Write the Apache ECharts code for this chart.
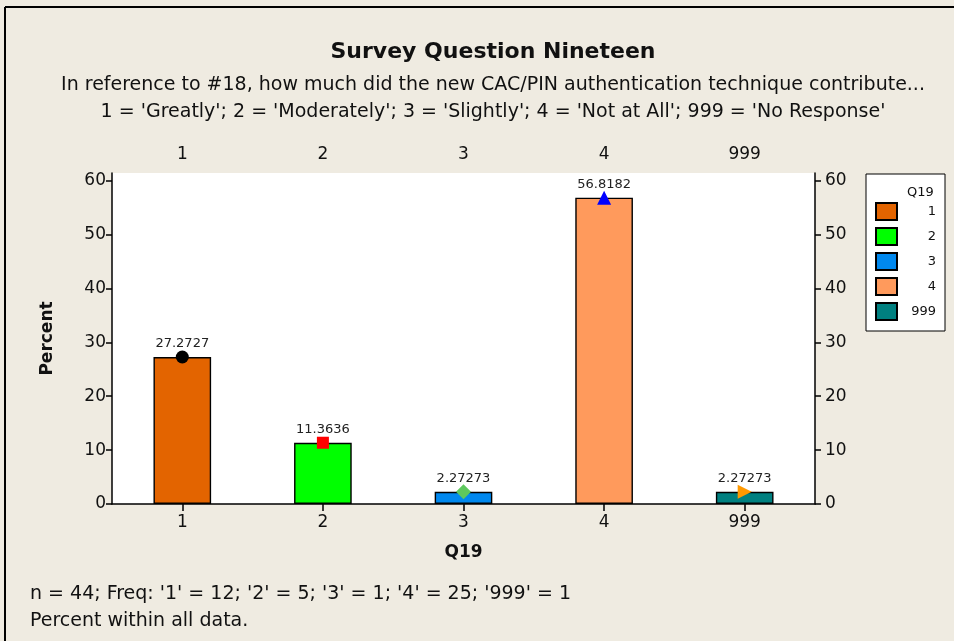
<!DOCTYPE html>
<html><head><meta charset="utf-8">
<script src="https://cdn.jsdelivr.net/npm/echarts@6/dist/echarts.min.js"></script>
<style>html,body{margin:0;padding:0;background:#EFEBE1;}#c{width:954px;height:641px;}</style>
</head><body><div id="c"></div>
<script>
const categories = ['1', '2', '3', '4', '999'];
const percents = [27.2727, 11.3636, 2.27273, 56.8182, 2.27273];
const percentLabels = ['27.2727', '11.3636', '2.27273', '56.8182', '2.27273'];
const barColors = ['#E36400', '#00FF00', '#0088EE', '#FF9A5C', '#008080'];
const markerSymbols = ['circle', 'rect', 'diamond', 'triangle', 'triangle'];
const markerColors = ['#000000', '#FF0000', '#5EC85E', '#0000FF', '#FF9900'];
const markerRotate = [0, 0, 0, 0, -90];
const markerSizes = [13, 12, 15, 14, 14];
const yTicks = [0, 10, 20, 30, 40, 50, 60];
const titleText = 'Survey Question Nineteen';
const subtitleLine1 = 'In reference to #18, how much did the new CAC/PIN authentication technique contribute...';
const subtitleLine2 = "1 = 'Greatly'; 2 = 'Moderately'; 3 = 'Slightly'; 4 = 'Not at All'; 999 = 'No Response'";
const footnoteText = "n = 44; Freq: '1' = 12; '2' = 5; '3' = 1; '4' = 25; '999' = 1\nPercent within all data.";

const FONT = 'DejaVu Sans';
const chart = echarts.init(document.getElementById('c'), null, {renderer: 'canvas'});

const series = [];
categories.forEach((c, i) => {
  series.push({
    name: c, type: 'bar', stack: 'q', barWidth: '41%',
    data: categories.map((_, j) => j === i ? percents[j] : '-'),
    itemStyle: {color: barColors[i], borderColor: '#000', borderWidth: 1.4},
    label: {show: true, position: 'top', distance: 7, color: '#222', fontFamily: FONT, fontSize: 13,
      formatter: () => percentLabels[i]},
    emphasis: {disabled: true}
  });
});
categories.forEach((c, i) => {
  series.push({
    name: 'm' + c, type: 'scatter', xAxisIndex: 0, yAxisIndex: 0,
    data: categories.map((_, j) => j === i ? percents[j] : '-'),
    symbol: markerSymbols[i], symbolSize: markerSizes[i], symbolRotate: markerRotate[i],
    itemStyle: {color: markerColors[i], opacity: 1}, z: 5, silent: true
  });
});

const axisLabelStyle = {color: '#111', fontFamily: FONT, fontSize: 17};
const subStyle = {fontFamily: FONT, fontSize: 19, fontWeight: 'normal', color: '#111'};
chart.setOption({
  backgroundColor: '#EFEBE1',
  animation: false,
  title: [
    {text: titleText, left: 488, textAlign: 'center', top: 36, textStyle: {fontFamily: FONT, fontSize: 22, fontWeight: 'bold', color: '#111'}},
    {text: subtitleLine1, left: 488, textAlign: 'center', top: 71, textStyle: subStyle},
    {text: subtitleLine2, left: 488, textAlign: 'center', top: 98, textStyle: subStyle},
    {text: footnoteText, left: 25, top: 576, textStyle: {fontFamily: FONT, fontSize: 19, fontWeight: 'normal', color: '#111', lineHeight: 27}},
    {text: 'Q19', left: 902, top: 181, textStyle: {fontFamily: FONT, fontSize: 13, fontWeight: 'normal', color: '#111'}}
  ],
  legend: {
    data: categories, orient: 'vertical', left: 866, top: 174,
    padding: [28, 9, 10, 9], itemGap: 6, itemWidth: 21, itemHeight: 17,
    borderColor: '#000', borderWidth: 1, backgroundColor: '#fff',
    selectedMode: false, icon: 'rect',
    formatter: name => '{a|' + name + '}',
    textStyle: {fontFamily: FONT, fontSize: 13, color: '#111',
      rich: {a: {fontFamily: FONT, fontSize: 13, color: '#111', width: 34, align: 'right'}}}
  },
  grid: {left: 112, right: 139, top: 173, bottom: 137, show: true, backgroundColor: '#fff', borderWidth: 0},
  xAxis: [
    {type: 'category', data: categories, position: 'bottom',
     name: 'Q19', nameLocation: 'middle', nameGap: 40,
     nameTextStyle: {fontFamily: FONT, fontSize: 17, fontWeight: 'bold', color: '#111'},
     axisLine: {show: true, lineStyle: {color: '#000', width: 1.5}},
     axisTick: {show: true, alignWithLabel: true, length: 7, lineStyle: {color: '#000', width: 1.5}},
     axisLabel: Object.assign({margin: 10}, axisLabelStyle)},
    {type: 'category', data: categories, position: 'top',
     axisLine: {show: false},
     axisTick: {show: true, alignWithLabel: true, length: 6, lineStyle: {color: '#000', width: 1.5}},
     axisLabel: Object.assign({margin: 10}, axisLabelStyle)}
  ],
  yAxis: [
    {type: 'value', min: 0, max: 61.4, interval: 10, position: 'left',
     name: 'Percent', nameLocation: 'middle', nameGap: 56, nameRotate: 90,
     nameTextStyle: {fontFamily: FONT, fontSize: 17, fontWeight: 'bold', color: '#111'},
     axisLine: {show: true, lineStyle: {color: '#000', width: 1.5}},
     axisTick: {show: true, length: 6, customValues: yTicks, lineStyle: {color: '#000', width: 1.5}},
     axisLabel: Object.assign({margin: 6, customValues: yTicks}, axisLabelStyle),
     splitLine: {show: false}},
    {type: 'value', min: 0, max: 61.4, interval: 10, position: 'right',
     axisLine: {show: true, lineStyle: {color: '#000', width: 1.5}},
     axisTick: {show: true, length: 6, customValues: yTicks, lineStyle: {color: '#000', width: 1.5}},
     axisLabel: Object.assign({margin: 10, customValues: yTicks}, axisLabelStyle),
     splitLine: {show: false}}
  ],
  graphic: [
    {type: 'line', shape: {x1: 5, y1: 7, x2: 954, y2: 7}, style: {stroke: '#000', lineWidth: 2}},
    {type: 'line', shape: {x1: 5, y1: 7, x2: 5, y2: 641}, style: {stroke: '#000', lineWidth: 2}}
  ],
  series: series
});
</script></body></html>
